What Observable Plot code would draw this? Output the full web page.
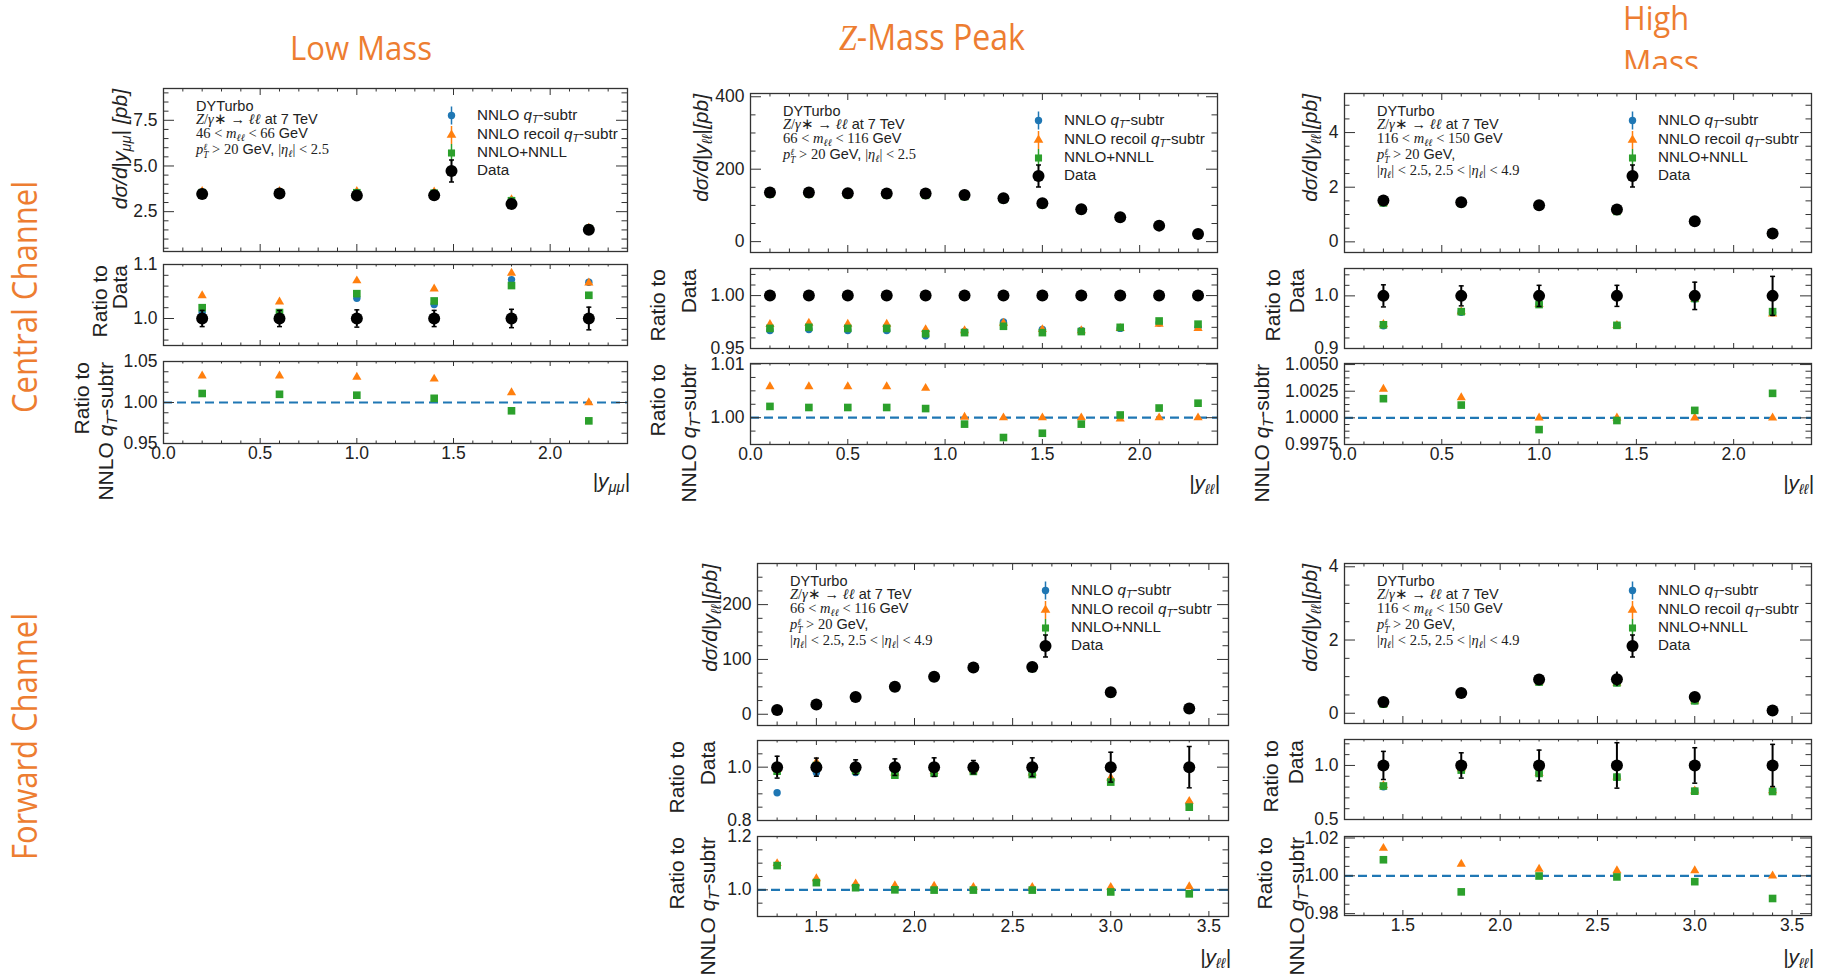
<!DOCTYPE html>
<html><head><meta charset="utf-8">
<script src="https://cdn.jsdelivr.net/npm/d3@7"></script>
<script src="https://cdn.jsdelivr.net/npm/@observablehq/plot@0.6"></script>
<style>
body{margin:0;background:#fff;}
#root{position:relative;width:1821px;height:977px;overflow:hidden;background:#fff;font-family:"Liberation Sans",Arial,Helvetica,sans-serif;color:#111;}
.abs{position:absolute;white-space:nowrap;}
.rot{transform-origin:0 0;transform:rotate(-90deg) translate(-100%,-50%);text-align:right;}
.m{font-family:"Liberation Serif","Times New Roman",serif;}
sub{font-size:70%;vertical-align:-0.3em;line-height:0;}
sup{font-size:70%;vertical-align:0.45em;line-height:0;}
.ss{display:inline-block;vertical-align:-0.4em;font-size:65%;line-height:0.85em;}
.ss>span{display:block;}
.clip{position:absolute;overflow:hidden;}
</style></head><body><div id="root"></div>
<script>
// ---------------- DATA ----------------
const centralXTicks = [0.0, 0.5, 1.0, 1.5, 2.0];
const forwardXTicks = [1.5, 2.0, 2.5, 3.0, 3.5];

// Low mass, central
const lmX = [0.2, 0.6, 1.0, 1.4, 1.8, 2.2];
const lmData = [3.47, 3.50, 3.38, 3.40, 2.92, 1.51];
const lmErr = [0.015, 0.015, 0.016, 0.015, 0.017, 0.021];
const lmBlueR = [1.011, 1.0075, 1.0375, 1.026, 1.072, 1.067];
const lmOrangeR = [1.0425, 1.031, 1.070, 1.055, 1.084, 1.066];
const lmGreenR = [1.020, 1.011, 1.046, 1.0325, 1.061, 1.043];
const lmOrangeN = [1.0325, 1.0325, 1.031, 1.0287, 1.012, 1.000];
const lmGreenN = [1.011, 1.010, 1.0089, 1.0051, 0.9899, 0.9776];
const lmTopTicks = [2.5, 5.0, 7.5];
const lmRatioTicks = [1.0, 1.1];
const lmNnloTicks = [0.95, 1.00, 1.05];

// Z peak, central
const zcX = [0.1, 0.3, 0.5, 0.7, 0.9, 1.1, 1.3, 1.5, 1.7, 1.9, 2.1, 2.3];
const zcData = [135.5, 135.5, 133.6, 132.7, 132.7, 129.0, 119.8, 106.0, 89.4, 67.3, 44.2, 21.2];
const zcErr = [0.001, 0.001, 0.001, 0.001, 0.001, 0.001, 0.001, 0.0012, 0.0015, 0.002, 0.0027, 0.0042];
const zcBlueR = [0.967, 0.968, 0.967, 0.967, 0.962, 0.966, 0.975, 0.968, 0.967, 0.969, 0.974, 0.970];
const zcOrangeR = [0.9728, 0.974, 0.973, 0.973, 0.968, 0.967, 0.974, 0.968, 0.967, 0.969, 0.973, 0.969];
const zcGreenR = [0.969, 0.970, 0.969, 0.969, 0.964, 0.965, 0.971, 0.965, 0.966, 0.970, 0.976, 0.973];
const zcOrangeN = [1.0058, 1.0058, 1.0058, 1.0058, 1.0055, 1.0001, 1.0, 1.0, 1.0, 0.9998, 1.0, 1.0];
const zcGreenN = [1.0021, 1.0019, 1.0019, 1.0019, 1.0017, 0.9988, 0.9963, 0.9971, 0.9988, 1.0005, 1.0018, 1.0027];
const zcTopTicks = [0, 200, 400];
const zcRatioTicks = [0.95, 1.00];
const zcNnloTicks = [1.00, 1.01];

// High mass, central
const hcX = [0.2, 0.6, 1.0, 1.4, 1.8, 2.2];
const hcData = [1.51, 1.45, 1.34, 1.18, 0.756, 0.305];
const hcErr = [0.021, 0.019, 0.020, 0.020, 0.026, 0.037];
const hcBlueR = [0.943, 0.969, 0.984, 0.944, 0.994, 0.968];
const hcOrangeR = [0.946, 0.970, 0.984, 0.944, 0.994, 0.966];
const hcGreenR = [0.945, 0.970, 0.9835, 0.944, 0.995, 0.970];
const hcOrangeN = [1.0027, 1.0019, 1.0, 1.0, 1.0, 1.0];
const hcGreenN = [1.0018, 1.0012, 0.9989, 0.99975, 1.0007, 1.0023];
const hcTopTicks = [0, 2, 4];
const hcRatioTicks = [0.9, 1.0];
const hcNnloTicks = [0.9975, 1.0000, 1.0025, 1.0050];

// Z peak, forward
const zfX = [1.3, 1.5, 1.7, 1.9, 2.1, 2.3, 2.6, 3.0, 3.4];
const zfData = [7.9, 17.7, 31.7, 50.0, 68.3, 85.4, 86.0, 40.2, 10.4];
const zfErr = [0.041, 0.034, 0.0275, 0.031, 0.035, 0.025, 0.035, 0.056, 0.0775];
const zfBlueR = [0.904, 0.980, 0.980, 0.975, 0.981, 0.9875, 0.975, 0.950, 0.862];
const zfOrangeR = [0.992, 1.019, 0.994, 0.979, 0.984, 0.990, 0.979, 0.960, 0.8725];
const zfGreenR = [0.985, 1.006, 0.9875, 0.970, 0.9775, 0.984, 0.9725, 0.944, 0.850];
const zfOrangeN = [1.099, 1.042, 1.023, 1.016, 1.014, 1.010, 1.010, 1.010, 1.012];
const zfGreenN = [1.091, 1.027, 1.008, 1.000, 0.999, 0.999, 0.999, 0.992, 0.985];
const zfTopTicks = [0, 100, 200];
const zfRatioTicks = [0.8, 1.0];
const zfNnloTicks = [1.0, 1.2];

// High mass, forward
const hfX = [1.4, 1.8, 2.2, 2.6, 3.0, 3.4];
const hfData = [0.31, 0.555, 0.92, 0.93, 0.445, 0.073];
const hfErr = [0.13, 0.117, 0.142, 0.21, 0.164, 0.195];
const hfBlueR = [0.803, 0.965, 0.926, 0.893, 0.764, 0.768];
const hfOrangeR = [0.815, 0.971, 0.929, 0.895, 0.766, 0.768];
const hfGreenR = [0.810, 0.957, 0.926, 0.892, 0.762, 0.759];
const hfOrangeN = [1.0146, 1.0062, 1.0036, 1.0028, 1.0028, 1.0];
const hfGreenN = [1.0085, 0.9915, 0.9999, 0.9994, 0.9969, 0.988];
const hfTopTicks = [0, 2, 4];
const hfRatioTicks = [0.5, 1.0];
const hfNnloTicks = [0.98, 1.00, 1.02];

const legendLabels = ["NNLO <i>q</i><sub><i>T</i></sub>-subtr", "NNLO recoil <i>q</i><sub><i>T</i></sub>-subtr", "NNLO+NNLL", "Data"];

// ---------------- STYLE ----------------
const BLUE = "#1f77b4", ORANGE = "#ff7f0e", GREEN = "#2ca02c", FR = "#333", TXT = "#222", TITLE = "#ED7D31";
const TICKFS = 17.5, PADFS = 21;
const root = document.getElementById("root");

const capSym = {draw(ctx, size) { const r = Math.sqrt(size / Math.PI); ctx.moveTo(-r, 0); ctx.lineTo(r, 0); }};
const vbarSym = {draw(ctx, size) { const r = Math.sqrt(size / Math.PI); ctx.moveTo(0, -r); ctx.lineTo(0, r); }};

function stepTicks(lo, hi, step) {
  const a = Math.ceil(lo / step - 1e-6), b = Math.floor(hi / step + 1e-6);
  return d3.range(a, b + 1).map(i => +(i * step).toFixed(9));
}

const massLine = (lo, hi) => `<span class="m">${lo} &lt; <i>m</i><sub><i>ℓℓ</i></sub> &lt; ${hi}</span> GeV`;
const ptLine = `<span class="m"><i>p</i><span class="ss"><span><i>ℓ</i></span><span><i>T</i></span></span> &gt; 20</span> GeV,`;
const etaC = `<span class="m">|<i>η</i><sub><i>ℓ</i></sub>| &lt; 2.5</span>`;
const etaF = `<span class="m">|<i>η</i><sub><i>ℓ</i></sub>| &lt; 2.5, 2.5 &lt; |<i>η</i><sub><i>ℓ</i></sub>| &lt; 4.9</span>`;
const procLine = `<span class="m"><i>Z</i>/<i>γ</i>∗ → <i>ℓℓ</i></span> at 7 TeV`;
const nnloT = `NNLO <i>q</i><sub><i>T</i></sub>-subtr`;
const xsT = (s, sp) => `<i>dσ/d</i>|<i>y</i><sub><i>${s}</i></sub>|${sp}<i>[pb]</i>`;

const panels = [
  {left: 163, right: 627, xDomain: [0, 2.4], xLabels: centralXTicks,
   x: lmX, data: lmData, err: lmErr, b: lmBlueR, o: lmOrangeR, g: lmGreenR, on: lmOrangeN, gn: lmGreenN,
   pads: [{top: 88, bottom: 251, domain: [0.32, 9.24], major: 2.5, minor: 0.5, labels: lmTopTicks, dig: 1, xLen: 7},
          {top: 264, bottom: 345, domain: [0.95, 1.1], major: 0.1, minor: 0.02, labels: lmRatioTicks, dig: 1, xLen: 5},
          {top: 361, bottom: 443, domain: [0.95, 1.05], major: 0.05, minor: 0.0125, labels: lmNnloTicks, dig: 2, xLen: 5}],
   titles: [[{h: xsT("μμ", " "), xc: 119}], [{h: "Ratio to", xc: 99}, {h: "Data", xc: 119}], [{h: "Ratio to", xc: 81}, {h: nnloT, xc: 105}]],
   xTitle: {h: `|<i>y</i><sub><i>μμ</i></sub>|`, yc: 482},
   info: ["DYTurbo", procLine, massLine(46, 66), ptLine.replace(/,$/, ", ") + etaC]},
  {left: 750, right: 1217, xDomain: [0, 2.4], xLabels: centralXTicks,
   x: zcX, data: zcData, err: zcErr, b: zcBlueR, o: zcOrangeR, g: zcGreenR, on: zcOrangeN, gn: zcGreenN,
   pads: [{top: 93, bottom: 252, domain: [-30, 409], major: 200, minor: 50, labels: zcTopTicks, dig: 0, xLen: 7},
          {top: 268, bottom: 348, domain: [0.95, 1.0256], major: 0.05, minor: 0.01, labels: zcRatioTicks, dig: 2, xLen: 5},
          {top: 363, bottom: 444, domain: [0.995, 1.0101], major: 0.01, minor: 0.0025, labels: zcNnloTicks, dig: 2, xLen: 5}],
   titles: [[{h: xsT("ℓℓ", ""), xc: 700}], [{h: "Ratio to", xc: 657}, {h: "Data", xc: 688}], [{h: "Ratio to", xc: 657}, {h: nnloT, xc: 688}]],
   xTitle: {h: `|<i>y</i><sub><i>ℓℓ</i></sub>|`, yc: 484},
   info: ["DYTurbo", procLine, massLine(66, 116), ptLine.replace(/,$/, ", ") + etaC]},
  {left: 1344, right: 1811, xDomain: [0, 2.4], xLabels: centralXTicks,
   x: hcX, data: hcData, err: hcErr, b: hcBlueR, o: hcOrangeR, g: hcGreenR, on: hcOrangeN, gn: hcGreenN,
   pads: [{top: 93, bottom: 252, domain: [-0.39, 5.43], major: 2, minor: 0.5, labels: hcTopTicks, dig: 0, xLen: 7},
          {top: 268, bottom: 348, domain: [0.9, 1.052], major: 0.1, minor: 0.02, labels: hcRatioTicks, dig: 1, xLen: 5},
          {top: 363, bottom: 444, domain: [0.9975, 1.0051], major: 0.0025, minor: 0.000625, labels: hcNnloTicks, dig: 4, xLen: 5}],
   titles: [[{h: xsT("ℓℓ", ""), xc: 1309}], [{h: "Ratio to", xc: 1272}, {h: "Data", xc: 1296}], [{h: nnloT, xc: 1261}]],
   xTitle: {h: `|<i>y</i><sub><i>ℓℓ</i></sub>|`, yc: 484},
   info: ["DYTurbo", procLine, massLine(116, 150), ptLine, etaF]},
  {left: 757, right: 1228, xDomain: [1.2, 3.6], xLabels: forwardXTicks,
   x: zfX, data: zfData, err: zfErr, b: zfBlueR, o: zfOrangeR, g: zfGreenR, on: zfOrangeN, gn: zfGreenN,
   pads: [{top: 563, bottom: 725, domain: [-20.5, 275], major: 100, minor: 25, labels: zfTopTicks, dig: 0, xLen: 7},
          {top: 740, bottom: 820, domain: [0.8, 1.1], major: 0.2, minor: 0.05, labels: zfRatioTicks, dig: 1, xLen: 5},
          {top: 836, bottom: 916, domain: [0.9, 1.2], major: 0.2, minor: 0.05, labels: zfNnloTicks, dig: 1, xLen: 5}],
   titles: [[{h: xsT("ℓℓ", ""), xc: 709}], [{h: "Ratio to", xc: 676}, {h: "Data", xc: 707}], [{h: "Ratio to", xc: 676}, {h: nnloT, xc: 707}]],
   xTitle: {h: `|<i>y</i><sub><i>ℓℓ</i></sub>|`, yc: 958},
   info: ["DYTurbo", procLine, massLine(66, 116), ptLine, etaF]},
  {left: 1344, right: 1811, xDomain: [1.2, 3.6], xLabels: forwardXTicks,
   x: hfX, data: hfData, err: hfErr, b: hfBlueR, o: hfOrangeR, g: hfGreenR, on: hfOrangeN, gn: hfGreenN,
   pads: [{top: 563, bottom: 723, domain: [-0.28, 4.09], major: 2, minor: 0.5, labels: hfTopTicks, dig: 0, xLen: 7},
          {top: 739, bottom: 819, domain: [0.5, 1.24], major: 0.5, minor: 0.1, labels: hfRatioTicks, dig: 1, xLen: 5},
          {top: 836, bottom: 915, domain: [0.979, 1.0208], major: 0.02, minor: 0.005, labels: hfNnloTicks, dig: 2, xLen: 5}],
   titles: [[{h: xsT("ℓℓ", ""), xc: 1309}], [{h: "Ratio to", xc: 1270}, {h: "Data", xc: 1295}], [{h: "Ratio to", xc: 1264, clipLeft: 1256}, {h: nnloT, xc: 1296}]],
   xTitle: {h: `|<i>y</i><sub><i>ℓℓ</i></sub>|`, yc: 958},
   info: ["DYTurbo", procLine, massLine(116, 150), ptLine, etaF]}
];

// ---------------- HELPERS ----------------
function addText(html, x, yc, fs, opts = {}) {
  const d = document.createElement("div");
  d.className = "abs";
  d.innerHTML = html;
  d.style.fontSize = fs + "px";
  d.style.lineHeight = fs + "px";
  d.style.top = (yc - fs * 0.55) + "px";
  if (opts.right) d.style.right = (1821 - x) + "px"; else d.style.left = x + "px";
  if (opts.italic) d.style.fontStyle = "italic";
  d.style.color = opts.color || TXT;
  root.appendChild(d);
  return d;
}
function addRot(html, xc, yTop, fs, clipLeft) {
  const d = document.createElement("div");
  d.className = "abs rot";
  d.innerHTML = html;
  d.style.fontSize = fs + "px";
  d.style.lineHeight = fs + "px";
  d.style.color = TXT;
  if (clipLeft != null) {
    const w = document.createElement("div");
    w.className = "clip";
    w.style.left = clipLeft + "px"; w.style.top = (yTop - 5) + "px";
    w.style.width = "80px"; w.style.height = "200px";
    d.style.left = (xc - clipLeft) + "px"; d.style.top = "5px";
    w.appendChild(d); root.appendChild(w);
  } else {
    d.style.left = xc + "px"; d.style.top = yTop + "px";
    root.appendChild(d);
  }
}

function tickMarks(P, pad, W, H) {
  const [lo, hi] = pad.domain;
  const yMaj = stepTicks(lo, hi, pad.major);
  const yMin = stepTicks(lo, hi, pad.minor).filter(v => !yMaj.some(u => Math.abs(u - v) < 1e-9));
  const xMaj = stepTicks(P.xDomain[0], P.xDomain[1], 0.5);
  const xMin = stepTicks(P.xDomain[0], P.xDomain[1], 0.1).filter(v => !xMaj.some(u => Math.abs(u - v) < 1e-9));
  const st = {stroke: FR, strokeWidth: 1};
  const L = 11, l = 5.5, X = pad.xLen, x = pad.xLen / 2;
  return [
    Plot.tickY(yMaj, {y: d => d, ...st, insetRight: W - L}),
    Plot.tickY(yMaj, {y: d => d, ...st, insetLeft: W - L}),
    Plot.tickY(yMin, {y: d => d, ...st, insetRight: W - l}),
    Plot.tickY(yMin, {y: d => d, ...st, insetLeft: W - l}),
    Plot.tickX(xMaj, {x: d => d, ...st, insetTop: H - X}),
    Plot.tickX(xMaj, {x: d => d, ...st, insetBottom: H - X}),
    Plot.tickX(xMin, {x: d => d, ...st, insetTop: H - x}),
    Plot.tickX(xMin, {x: d => d, ...st, insetBottom: H - x})
  ];
}

const M = {l: 90, r: 20, t: 20, b: 45};

function drawPad(P, k) {
  const pad = P.pads[k];
  const W = P.right - P.left, H = pad.bottom - pad.top;
  const rows = P.x.map((x, i) => ({x, d: P.data[i], e: P.err[i], b: P.b[i], o: P.o[i], g: P.g[i], on: P.on[i], gn: P.gn[i]}));
  let marks = [];
  if (k === 0) {
    marks = [
      Plot.dot(rows, {x: "x", y: r => r.d * r.b, r: 3.7, fill: BLUE}),
      Plot.dot(rows, {x: "x", y: r => r.d * r.o, symbol: "triangle", r: 3.4, fill: ORANGE}),
      Plot.dot(rows, {x: "x", y: r => r.d * r.g, symbol: "square", r: 4.3, fill: GREEN}),
      Plot.ruleX(rows, {x: "x", y1: r => r.d * (1 - r.e), y2: r => r.d * (1 + r.e), stroke: "#000", strokeWidth: 2}),
      Plot.dot(rows, {x: "x", y: "d", r: 6, fill: "#000"})
    ];
    const lx = 288, ly = [27, 46.5, 64.5, 82.5];
    const at = (i) => ({frameAnchor: "top-left", dx: lx, dy: ly[i]});
    marks.push(
      Plot.dot([0], {...at(0), symbol: vbarSym, r: 9, stroke: BLUE, strokeWidth: 1.5, fill: "none"}),
      Plot.dot([0], {...at(0), r: 3.7, fill: BLUE}),
      Plot.dot([0], {...at(1), symbol: vbarSym, r: 9, stroke: ORANGE, strokeWidth: 1.5, fill: "none"}),
      Plot.dot([0], {...at(1), symbol: "triangle", r: 3.6, fill: ORANGE}),
      Plot.dot([0], {...at(2), symbol: vbarSym, r: 9, stroke: GREEN, strokeWidth: 1.5, fill: "none"}),
      Plot.dot([0], {...at(2), symbol: "square", r: 4.0, fill: GREEN}),
      Plot.dot([0], {...at(3), symbol: vbarSym, r: 11, stroke: "#000", strokeWidth: 2, fill: "none"}),
      Plot.dot([0], {frameAnchor: "top-left", dx: lx, dy: ly[3] - 11, symbol: capSym, r: 2.5, stroke: "#000", strokeWidth: 1.5, fill: "none"}),
      Plot.dot([0], {frameAnchor: "top-left", dx: lx, dy: ly[3] + 11, symbol: capSym, r: 2.5, stroke: "#000", strokeWidth: 1.5, fill: "none"}),
      Plot.dot([0], {...at(3), r: 6, fill: "#000"})
    );
  } else if (k === 1) {
    marks = [
      Plot.dot(rows, {x: "x", y: "b", r: 3.7, fill: BLUE}),
      Plot.dot(rows, {x: "x", y: "o", symbol: "triangle", r: 3.4, fill: ORANGE}),
      Plot.dot(rows, {x: "x", y: "g", symbol: "square", r: 4.3, fill: GREEN}),
      Plot.ruleX(rows, {x: "x", y1: r => 1 - r.e, y2: r => 1 + r.e, stroke: "#000", strokeWidth: 2}),
      Plot.dot(rows, {x: "x", y: r => 1 - r.e, symbol: capSym, r: 2.5, stroke: "#000", strokeWidth: 1.5, fill: "none"}),
      Plot.dot(rows, {x: "x", y: r => 1 + r.e, symbol: capSym, r: 2.5, stroke: "#000", strokeWidth: 1.5, fill: "none"}),
      Plot.dot(rows, {x: "x", y: () => 1, r: 6, fill: "#000"})
    ];
  } else {
    marks = [
      Plot.ruleY([1], {stroke: BLUE, strokeWidth: 2.2, strokeDasharray: "9,5"}),
      Plot.dot(rows, {x: "x", y: "on", symbol: "triangle", r: 3.4, fill: ORANGE}),
      Plot.dot(rows, {x: "x", y: "gn", symbol: "square", r: 4.3, fill: GREEN}),
      Plot.text(P.xLabels, {x: d => d, text: d => d.toFixed(1), frameAnchor: "bottom", lineAnchor: "top", dy: 3, fontSize: TICKFS, fill: TXT})
    ];
  }
  marks.push(...tickMarks(P, pad, W, H));
  marks.push(Plot.text(pad.labels, {y: d => d, text: d => d.toFixed(pad.dig), frameAnchor: "left", textAnchor: "end", dx: -6, fontSize: TICKFS, fill: TXT}));
  marks.push(Plot.frame({stroke: FR, strokeWidth: 1.3}));
  const svg = Plot.plot({
    width: W + M.l + M.r, height: H + M.t + M.b,
    marginLeft: M.l, marginRight: M.r, marginTop: M.t, marginBottom: M.b,
    x: {domain: P.xDomain, axis: null},
    y: {domain: pad.domain, axis: null},
    style: {background: "transparent", overflow: "visible", fontFamily: "'Liberation Sans', Arial, sans-serif"},
    marks
  });
  svg.style.position = "absolute";
  svg.style.left = (P.left - M.l) + "px";
  svg.style.top = (pad.top - M.t) + "px";
  svg.style.maxWidth = "none";
  root.appendChild(svg);
}

// ---------------- BUILD ----------------
panels.forEach(P => {
  [0, 1, 2].forEach(k => drawPad(P, k));
  P.titles.forEach((lines, k) => {
    lines.forEach(t => addRot(t.h, t.xc, P.pads[k].top + 1, PADFS, t.clipLeft));
  });
  addText(P.xTitle.h, P.right + 3, P.xTitle.yc, PADFS, {right: true, italic: true});
  const t0 = P.pads[0].top;
  const infoY = [19, 32, 46, 62, 78];
  P.info.forEach((h, i) => addText(h, P.left + 33, t0 + infoY[i], 14.5));
  const ly = [27, 46.5, 64.5, 82.5];
  legendLabels.forEach((h, i) => addText(h, P.left + 314, t0 + ly[i], 15.2));
});

// big orange titles
(function () {
  const NS = "http://www.w3.org/2000/svg";
  const ov = document.createElementNS(NS, "svg");
  ov.setAttribute("width", 1821); ov.setAttribute("height", 977);
  ov.style.position = "absolute"; ov.style.left = "0px"; ov.style.top = "0px"; ov.style.pointerEvents = "none";
  ov.innerHTML = `
    <defs><clipPath id="hmclip"><rect x="1600" y="0" width="150" height="69"/></clipPath></defs>
    <g font-family="'Liberation Sans Narrow','Open Sans',sans-serif" fill="${TITLE}">
      <text x="290" y="60" font-size="33" textLength="142" lengthAdjust="spacingAndGlyphs">Low Mass</text>
      <text x="839" y="50" font-size="36" textLength="186" lengthAdjust="spacingAndGlyphs"><tspan font-style="italic" font-family="'Liberation Serif',serif">Z</tspan>-Mass Peak</text>
      <text x="1623" y="30" font-size="33" textLength="66" lengthAdjust="spacingAndGlyphs">High</text>
      <g clip-path="url(#hmclip)"><text x="1623" y="74" font-size="33" textLength="76" lengthAdjust="spacingAndGlyphs">Mass</text></g>
      <text transform="translate(37,413) rotate(-90)" font-size="34" textLength="232" lengthAdjust="spacingAndGlyphs">Central Channel</text>
      <text transform="translate(37,860) rotate(-90)" font-size="34" textLength="247" lengthAdjust="spacingAndGlyphs">Forward Channel</text>
    </g>`;
  root.appendChild(ov);
})();
</script></body></html>
